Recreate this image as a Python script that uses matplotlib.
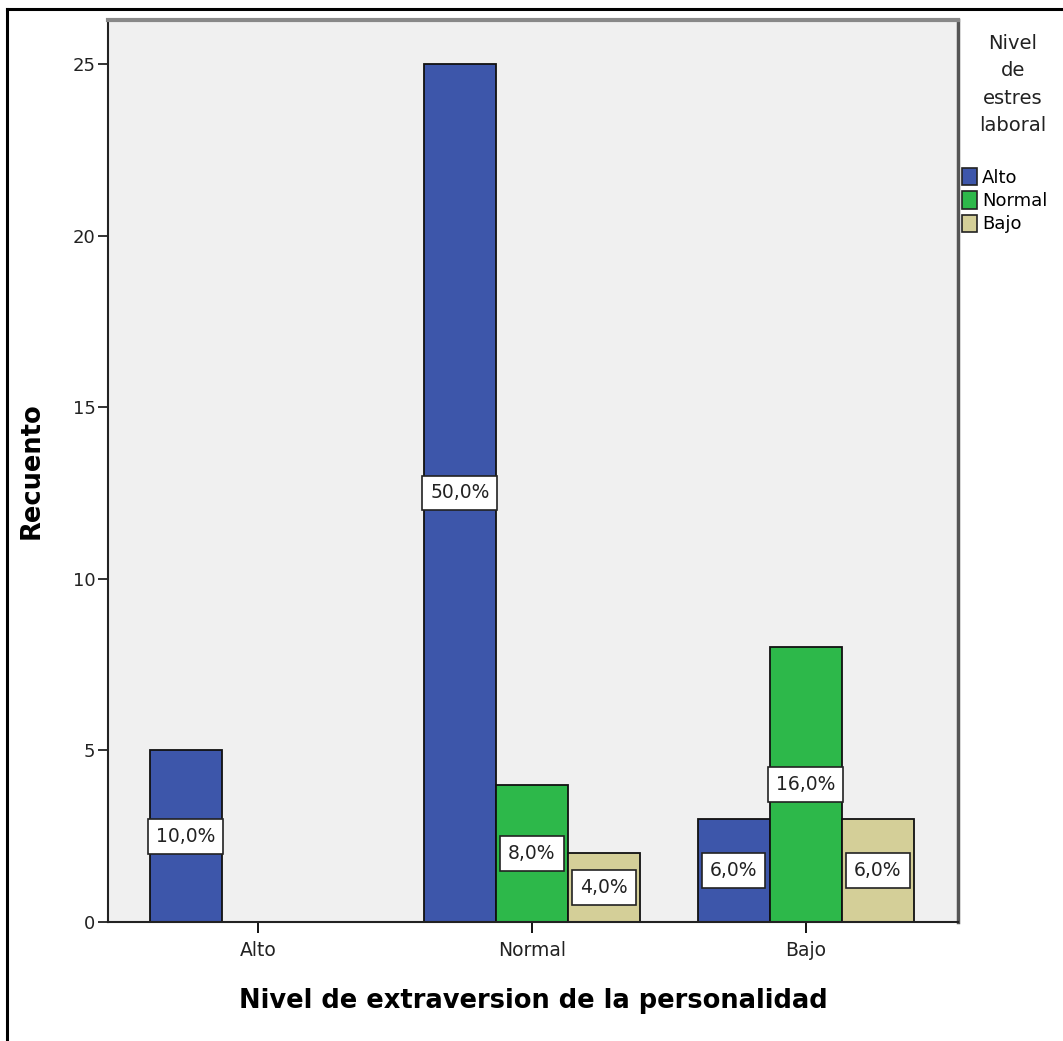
import matplotlib
matplotlib.use('Agg')
import matplotlib.pyplot as plt
from matplotlib.lines import Line2D
from matplotlib.patches import Patch
import numpy as np

# counts per extraversion level (x) and work-stress level (series)
categories = ['Alto', 'Normal', 'Bajo']
series = ['Alto', 'Normal', 'Bajo']
alto = [5, 25, 3]
normal = [0, 4, 8]
bajo = [0, 2, 3]
colors = ['#3d56aa', '#2db84a', '#d4cf98']
total = 50

plt.rcParams['font.family'] = ['DejaVu Sans']

fig = plt.figure(figsize=(10.63, 10.41), dpi=100)
ax = fig.add_axes([108/1063, 119/1041, 850/1063, 902/1041])
ax.set_facecolor('#f0f0f0')

x = np.arange(len(categories))
w = 0.263
values = [alto, normal, bajo]
for i, (vals, c) in enumerate(zip(values, colors)):
    xs = x + (i - 1) * w
    ax.bar(xs, vals, width=w, color=c, edgecolor='#111111', linewidth=1.3, zorder=2)
    for xi, v in zip(xs, vals):
        if v == 0:
            continue
        pct = '{:.1f}%'.format(100.0 * v / total).replace('.', ',')
        ax.text(xi, v / 2.0, pct, ha='center', va='center', fontsize=13.5,
                color='#222222', zorder=3,
                bbox=dict(boxstyle='square,pad=0.42', facecolor='white',
                          edgecolor='#222222', linewidth=1.2))

ax.set_xlim(-0.547, 2.555)
ax.set_ylim(0, 26.28)
ax.set_xticks(x)
ax.set_xticklabels(categories, fontsize=13.5, color='#222222')
ax.set_yticks([0, 5, 10, 15, 20, 25])
ax.tick_params(axis='y', length=7, width=1.3, labelsize=13, colors='#222222', pad=2)
ax.tick_params(axis='x', length=8, width=1.3, pad=6)

for side in ['left', 'bottom']:
    ax.spines[side].set_color('#222222')
    ax.spines[side].set_linewidth(1.5)
ax.spines['top'].set_color('#888888')
ax.spines['top'].set_linewidth(3)
ax.spines['right'].set_color('#555555')
ax.spines['right'].set_linewidth(2.5)

ax.set_xlabel('Nivel de extraversion de la personalidad', fontsize=18.5,
              fontweight='bold', labelpad=20)
ax.set_ylabel('Recuento', fontsize=18.5, fontweight='bold', labelpad=20)

# legend title and entries
fig.text(1013/1063, 1 - 34/1041, 'Nivel\nde\nestres\nlaboral', ha='center', va='top',
         multialignment='center', fontsize=14, color='#222222', linespacing=1.55)
handles = [Patch(facecolor=c, edgecolor='#222222', linewidth=1.2) for c in colors]
fig.legend(handles, series, loc='upper left', bbox_to_anchor=(962/1063, 1 - 168/1041),
           frameon=False, fontsize=13, handlelength=0.85, handleheight=1.1,
           handletextpad=0.25, labelspacing=0.25, borderpad=0, borderaxespad=0)

# outer frame
fig.add_artist(Line2D([7/1063, 7/1063], [0, 1 - 9/1041], color='black', lw=2.2,
                      transform=fig.transFigure))
fig.add_artist(Line2D([7/1063, 1], [1 - 9/1041, 1 - 9/1041], color='black', lw=2.2,
                      transform=fig.transFigure))

fig.savefig('out.png', dpi=100, facecolor='white')
